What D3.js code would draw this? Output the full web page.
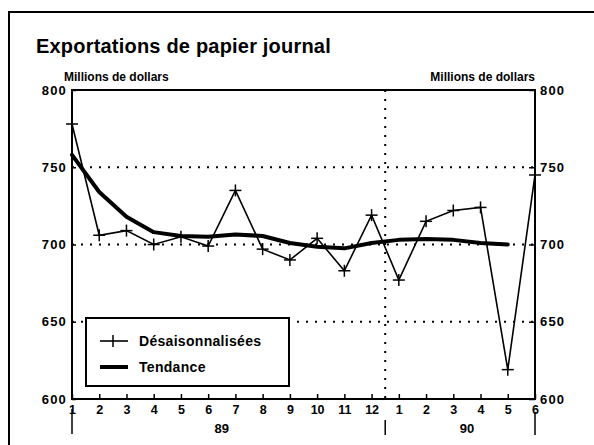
<!DOCTYPE html>
<html><head><meta charset="utf-8">
<script src="https://cdn.jsdelivr.net/npm/d3@7"></script>
<style>
body{margin:0;background:#fff;}
text{font-family:"Liberation Sans",Arial,sans-serif;font-weight:bold;fill:#000;}
</style></head>
<body><svg id="c" width="594" height="445"></svg>
<script>
const monthLabels = ["1","2","3","4","5","6","7","8","9","10","11","12","1","2","3","4","5","6"];
const yearLabels = ["89","90"];
const desaisonnalisees = [778,706,709,700,705,699,735,697,690,704,683,719,677,715,722,724,619,745];
const tendance = [758,734,718,708,705.5,705,706.5,705.5,701,698.5,697.5,701,703,703.5,703,701,700];
const yTicks = [600,650,700,750,800];
const gridValues = [650,700,750];

const svg = d3.select("#c");
const L=72,R=535,T=90,B=399;
const x = d3.scaleLinear().domain([0,17]).range([L,R]);
const y = d3.scaleLinear().domain([600,800]).range([B,T]);

// outer frame
svg.append("rect").attr("x",9).attr("y",12).attr("width",620).attr("height",500)
  .attr("fill","none").attr("stroke","#000").attr("stroke-width",2);

svg.append("text").attr("x",36).attr("y",53).attr("font-size",20).attr("letter-spacing",0.2).text("Exportations de papier journal");
svg.append("text").attr("x",64).attr("y",81).attr("font-size",12).text("Millions de dollars");
svg.append("text").attr("x",535).attr("y",81).attr("font-size",12).attr("text-anchor","end").text("Millions de dollars");

// grid
const dots = "2,7";
svg.selectAll(".grid").data(gridValues).enter().append("line")
  .attr("x1",L).attr("x2",R).attr("y1",d=>y(d)).attr("y2",d=>y(d))
  .attr("stroke","#000").attr("stroke-width",2).attr("stroke-dasharray",dots);
svg.append("line").attr("x1",x(11.5)).attr("x2",x(11.5)).attr("y1",T).attr("y2",B)
  .attr("stroke","#000").attr("stroke-width",2).attr("stroke-dasharray",dots);

// axes
const ax = svg.append("g").attr("transform",`translate(${L},0)`)
  .call(d3.axisLeft(y).tickValues(yTicks).tickSizeInner(-4).tickSizeOuter(0).tickPadding(5).tickFormat(d3.format("d")));
const ar = svg.append("g").attr("transform",`translate(${R},0)`)
  .call(d3.axisRight(y).tickValues(yTicks).tickSizeInner(-6).tickSizeOuter(0).tickPadding(5).tickFormat(d3.format("d")));
const ab = svg.append("g").attr("transform",`translate(0,${B})`)
  .call(d3.axisBottom(x).tickValues(d3.range(18)).tickSizeInner(-5).tickSizeOuter(0).tickPadding(6).tickFormat(i=>monthLabels[i]));
[ax,ar,ab].forEach(g=>{
  g.select(".domain").remove();
  g.selectAll("line").attr("stroke-width",1.5);
  g.selectAll("text").attr("font-size",12.5).attr("font-family","Liberation Sans, Arial, sans-serif").attr("font-weight","bold");
});
ax.selectAll("text").attr("font-size",13).attr("letter-spacing",1.2);
ar.selectAll("text").attr("font-size",13).attr("letter-spacing",1.2);
ab.selectAll("text").attr("dy","0.71em");

// plot box
svg.append("rect").attr("x",L).attr("y",T).attr("width",R-L).attr("height",B-T)
  .attr("fill","none").attr("stroke","#000").attr("stroke-width",2);

// year separators and labels
svg.append("line").attr("x1",x(0)).attr("x2",x(0)).attr("y1",409).attr("y2",434).attr("stroke","#000").attr("stroke-width",1.5);
svg.append("line").attr("x1",x(11.5)).attr("x2",x(11.5)).attr("y1",420).attr("y2",435).attr("stroke","#000").attr("stroke-width",1.5);
svg.append("line").attr("x1",x(17)).attr("x2",x(17)).attr("y1",412).attr("y2",435).attr("stroke","#000").attr("stroke-width",1.5);
svg.selectAll(".yr").data(yearLabels).enter().append("text")
  .attr("x",(d,i)=>i===0?x(5.5):x(14.5)).attr("y",433).attr("font-size",13).attr("text-anchor","middle").text(d=>d);

// lines
const line = d3.line().x((d,i)=>x(i)).y(d=>y(d));
svg.append("path").datum(tendance).attr("d",line).attr("fill","none").attr("stroke","#000")
  .attr("stroke-width",4).attr("stroke-linejoin","round").attr("stroke-linecap","round");
svg.append("path").datum(desaisonnalisees).attr("d",line).attr("fill","none").attr("stroke","#000")
  .attr("stroke-width",1.6);
const m = svg.selectAll(".mk").data(desaisonnalisees).enter().append("g")
  .attr("transform",(d,i)=>`translate(${x(i)},${y(d)})`);
m.append("line").attr("x1",-6).attr("x2",6).attr("stroke","#000").attr("stroke-width",1.5);
m.append("line").attr("y1",-6).attr("y2",6).attr("stroke","#000").attr("stroke-width",1.5);

// legend
const lg = svg.append("g");
lg.append("rect").attr("x",86).attr("y",318).attr("width",203).attr("height",68)
  .attr("fill","#fff").attr("stroke","#000").attr("stroke-width",2);
lg.append("line").attr("x1",100).attr("x2",128).attr("y1",341).attr("y2",341).attr("stroke","#000").attr("stroke-width",1.6);
lg.append("line").attr("x1",113).attr("x2",113).attr("y1",335).attr("y2",347).attr("stroke","#000").attr("stroke-width",1.5);
lg.append("text").attr("x",139).attr("y",346).attr("font-size",14).attr("letter-spacing",0.3).text("Désaisonnalisées");
lg.append("line").attr("x1",100).attr("x2",128).attr("y1",367).attr("y2",367).attr("stroke","#000").attr("stroke-width",4);
lg.append("text").attr("x",139).attr("y",372).attr("font-size",14).attr("letter-spacing",0.3).text("Tendance");
</script></body></html>
